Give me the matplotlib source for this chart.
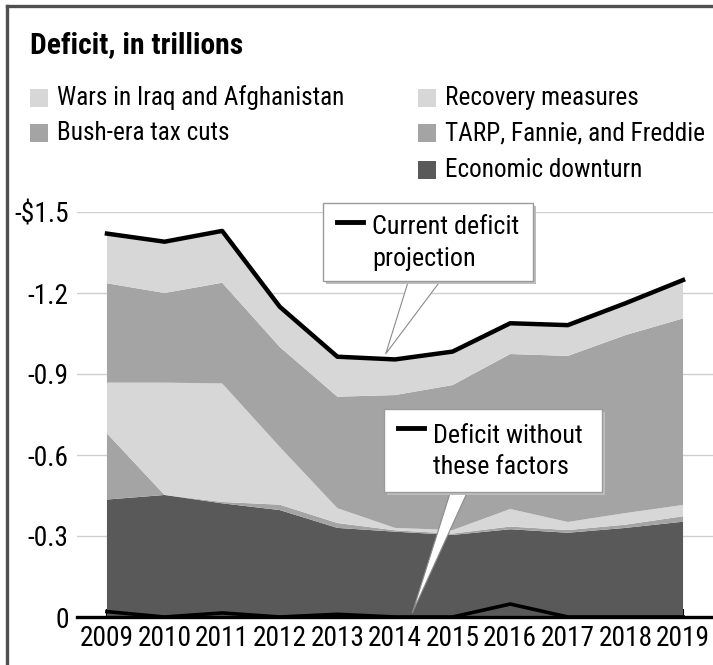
import os
import matplotlib
matplotlib.use("Agg")
import matplotlib.pyplot as plt
import matplotlib.font_manager as fm
from matplotlib.font_manager import FontProperties
from matplotlib.textpath import TextPath
from matplotlib.lines import Line2D
from matplotlib.patches import Rectangle
import numpy as np

# deficit pieces, trillions of dollars (shown as negatives on the axis)
years = [2009, 2010, 2011, 2012, 2013, 2014, 2015, 2016, 2017, 2018, 2019]
downturn = [0.435, 0.452, 0.421, 0.396, 0.330, 0.316, 0.304, 0.325, 0.312, 0.330, 0.353]
tarp = [0.245, 0.000, 0.005, 0.020, 0.018, 0.005, 0.005, 0.010, 0.010, 0.012, 0.020]
recovery = [0.188, 0.416, 0.439, 0.214, 0.055, 0.009, 0.013, 0.065, 0.030, 0.043, 0.042]
bush_cuts = [0.368, 0.332, 0.373, 0.370, 0.413, 0.492, 0.537, 0.574, 0.615, 0.659, 0.691]
wars = [0.184, 0.190, 0.192, 0.149, 0.148, 0.132, 0.124, 0.114, 0.114, 0.118, 0.142]
without_factors = [0.020, 0.000, 0.015, 0.000, 0.010, 0.000, 0.000, 0.048, 0.000, 0.000, 0.000]

y_ticks = [0, 0.3, 0.6, 0.9, 1.2, 1.5]
y_labels = ["0", "-0.3", "-0.6", "-0.9", "-1.2", "-$1.5"]

LIGHT = "#d7d7d7"
MID = "#a4a4a4"
DARK = "#595959"


def pick_font(bold):
    # look for a narrow / condensed face, the original uses one
    prefs = ["roboto condensed", "open sans condensed", "liberation sans narrow",
             "dejavu sans condensed", "dejavusanscondensed", "noto sans condensed",
             "notosans-condensed", "condensed", "narrow"]
    found = []
    for f in fm.fontManager.ttflist:
        key = (f.name + " " + os.path.basename(f.fname)).lower()
        if any(b in key for b in ["italic", "oblique", "light", "thin", "black", "extra", "semi", "medium"]):
            continue
        is_bold = f.weight in ("bold", 700) or "bold" in key
        if is_bold != bold:
            continue
        for rank, p in enumerate(prefs):
            if p in key or p in f.fname.lower():
                found.append((rank, f.fname))
                break
    if found:
        found.sort()
        return FontProperties(fname=found[0][1])
    return FontProperties(family="Liberation Sans", weight="bold" if bold else "normal")


FONT = pick_font(False)
FONT_B = pick_font(True)


def fit_size(text, width_px, prop):
    # font size (pt) that makes text about width_px wide at 100 dpi
    w = TextPath((0, 0), text, size=10, prop=prop).get_extents().width
    return 10 * width_px / (w * 100 / 72)


W, H = 713, 665
fig = plt.figure(figsize=(W / 100, H / 100), dpi=100)
fig.patch.set_facecolor("white")


def px(x, y):
    # image pixel (top-left origin) -> figure fraction
    return x / W, 1 - y / H


ax = fig.add_axes([77 / W, 1 - 617 / H, 1 - 77 / W, (617 - 212) / H])

layers = [downturn, tarp, recovery, bush_cuts, wars]
colors = [DARK, MID, LIGHT, MID, LIGHT]
ax.stackplot(years, *layers, colors=colors, linewidth=0, zorder=2)

total = np.sum(np.array(layers), axis=0)
ax.plot(years, total, color="black", lw=3.2, solid_joinstyle="round", zorder=4)
ax.plot(years, without_factors, color="black", lw=2.6, zorder=4, clip_on=False)

tick_size = fit_size("2009", 51, FONT)
ax.set_xlim(2008.48, 2019.52)
ax.set_ylim(0, 1.5)
ax.set_yticks(y_ticks)
ax.set_yticklabels(y_labels, fontproperties=FONT, fontsize=tick_size)
ax.set_xticks(years)
ax.set_xticklabels([str(y) for y in years], fontproperties=FONT, fontsize=tick_size)
ax.grid(axis="y", color="#cfcfcf", lw=1.0, zorder=0)
ax.set_axisbelow(True)
for side in ["top", "right", "left"]:
    ax.spines[side].set_visible(False)
ax.spines["bottom"].set_linewidth(2.4)
ax.spines["bottom"].set_zorder(5)
ax.tick_params(axis="y", length=0, pad=6)
ax.tick_params(axis="x", direction="in", length=6, width=1.5, pad=6)

# title and legend
fig.text(*px(30, 45), "Deficit, in trillions", fontproperties=FONT_B,
         fontsize=fit_size("Deficit, in trillions", 210, FONT_B), ha="left", va="center")
legend_items = [
    ("Wars in Iraq and Afghanistan", LIGHT, 30, 98, 298),
    ("Bush-era tax cuts", MID, 30, 133, 178),
    ("Recovery measures", LIGHT, 418, 98, 196),
    ("TARP, Fannie, and Freddie", MID, 418, 133, 258),
    ("Economic downturn", DARK, 418, 170, 203),
]
leg_size = min(fit_size(t[0], t[4], FONT) for t in legend_items)
for label, col, lx, ly, _ in legend_items:
    x0, y0 = px(lx, ly + 9)
    fig.add_artist(Rectangle((x0, y0), 18 / W, 18 / H, transform=fig.transFigure,
                             facecolor=col, edgecolor="none"))
    fig.text(*px(lx + 27, ly), label, fontproperties=FONT, fontsize=leg_size,
             ha="left", va="center")

call_size = min(fit_size("Current deficit", 145, FONT), fit_size("Deficit without", 155, FONT))


# callout boxes
def callout(box, text, tip, base_x, tail_w):
    bx0, by0, bx1, by1 = box
    ax.annotate("", xy=tip, xycoords="data",
                xytext=px(base_x, by1 - 6), textcoords="figure fraction",
                arrowprops=dict(arrowstyle="wedge,tail_width=%.2f,shrink_factor=0.5" % tail_w,
                                fc="white", ec="#8a8a8a", lw=0.8,
                                shrinkA=0, shrinkB=0, mutation_scale=20),
                annotation_clip=False, zorder=6)
    sx, sy = px(bx0 + 3, by1 + 3)
    fig.add_artist(Rectangle((sx, sy), (bx1 - bx0) / W, (by1 - by0) / H,
                             transform=fig.transFigure, facecolor="#bdbdbd",
                             edgecolor="none", zorder=7))
    x0, y0 = px(bx0, by1)
    fig.add_artist(Rectangle((x0, y0), (bx1 - bx0) / W, (by1 - by0) / H,
                             transform=fig.transFigure, facecolor="white",
                             edgecolor="#9a9a9a", lw=1.0, zorder=8))
    lx0, ly0 = px(bx0 + 14, by0 + 19)
    lx1, _ = px(bx0 + 40, by0 + 19)
    fig.add_artist(Line2D([lx0, lx1], [ly0, ly0], transform=fig.transFigure,
                          color="black", lw=3.5, zorder=9))
    fig.text(*px(bx0 + 49, (by0 + by1) / 2 + 1), text, fontproperties=FONT, fontsize=call_size,
             ha="left", va="center", linespacing=1.4, zorder=9)


callout((323, 203, 533, 281), "Current deficit\nprojection", (2013.84, 0.975), 426, 1.1)
callout((384, 409, 602, 492), "Deficit without\nthese factors", (2014.3, 0.015), 461, 0.6)

# frame on the left and top
fig.add_artist(Line2D([6.5 / W, 6.5 / W], [0, 1 - 6 / H], transform=fig.transFigure,
                      color="#505050", lw=2.4))
fig.add_artist(Line2D([6.5 / W, 1], [1 - 6 / H, 1 - 6 / H], transform=fig.transFigure,
                      color="#505050", lw=2.4))

fig.savefig("out.png", dpi=100)
